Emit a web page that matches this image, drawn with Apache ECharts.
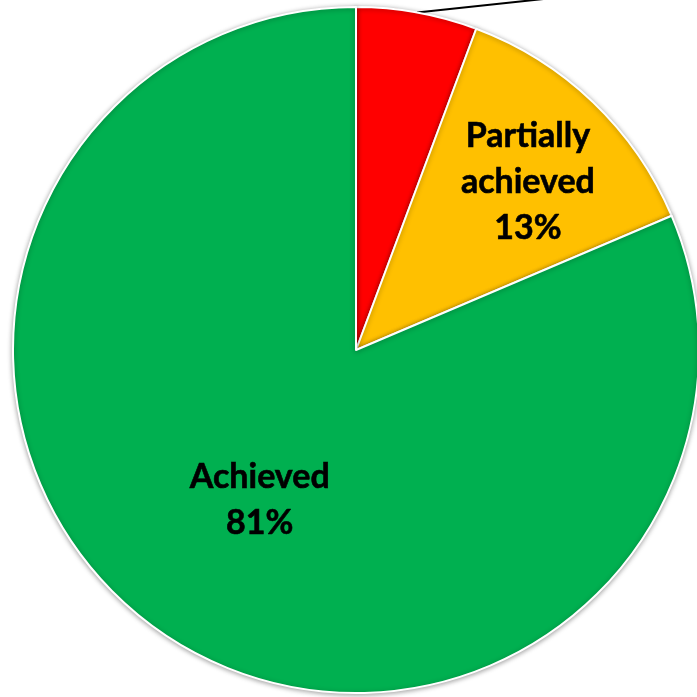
<!DOCTYPE html>
<html>
<head>
<meta charset="utf-8">
<script src="https://cdn.jsdelivr.net/npm/echarts@6/dist/echarts.min.js"></script>
<style>
html,body{margin:0;padding:0;background:#fff;}
#chart{width:697px;height:697px;}
</style>
</head>
<body>
<div id="chart"></div>
<script>
const categories = ['Not achieved', 'Partially achieved', 'Achieved'];
const labelTexts = ['Not achieved', 'Partially\nachieved', 'Achieved'];
const values = [5.7, 12.9, 81.4];
const colors = ['#FF0000', '#FFC000', '#00B050'];

const CX = 356, CY = 350, R = 343;

const chart = echarts.init(document.getElementById('chart'), null, {renderer: 'canvas'});

const data = categories.map((c, i) => ({
  name: c,
  value: values[i],
  itemStyle: {color: colors[i]},
  label: i === 0 ? {position: 'outside'} : {position: 'inside'},
  labelLine: {show: i === 0}
}));

chart.setOption({
  animation: false,
  backgroundColor: '#ffffff',
  series: [{
    type: 'pie',
    center: [CX, CY],
    radius: [0, R],
    startAngle: 90,
    clockwise: true,
    avoidLabelOverlap: false,
    data: data,
    itemStyle: {
      borderColor: '#ffffff',
      borderWidth: 2,
      shadowBlur: 5,
      shadowColor: 'rgba(0,0,0,0.35)',
      shadowOffsetY: 1
    },
    label: {
      show: true,
      color: '#000000',
      fontFamily: 'Lato',
      fontWeight: 'bold',
      fontSize: 34,
      lineHeight: 46,
      align: 'center',
      textBorderColor: '#000000',
      textBorderWidth: 0.6,
      formatter: function (p) {
        return labelTexts[p.dataIndex] + '\n' + Math.round(p.percent) + '%';
      }
    },
    labelLine: {
      lineStyle: {color: '#000000', width: 2},
      length: 10,
      length2: 10
    },
    labelLayout: function (params) {
      const r = params.labelRect;
      const mx = r.x + r.width / 2, my = r.y + r.height / 2;
      if (params.dataIndex === 0) {
        const p0 = params.labelLinePoints[0];
        return {
          x: p0[0] + 320,
          y: p0[1] - 120,
          labelLinePoints: [p0, [p0[0] + 150, p0[1] - 16], [p0[0] + 300, p0[1] - 32]]
        };
      }
      if (params.dataIndex === 1) {
        const k = 1.4;
        const nx = CX + (mx - CX) * k + 3, ny = CY + (my - CY) * k + 9;
        return {x: nx, y: ny, align: 'center', verticalAlign: 'middle'};
      }
      return {x: mx, y: my + 4, align: 'center', verticalAlign: 'middle'};
    }
  }]
});
</script>
</body>
</html>
